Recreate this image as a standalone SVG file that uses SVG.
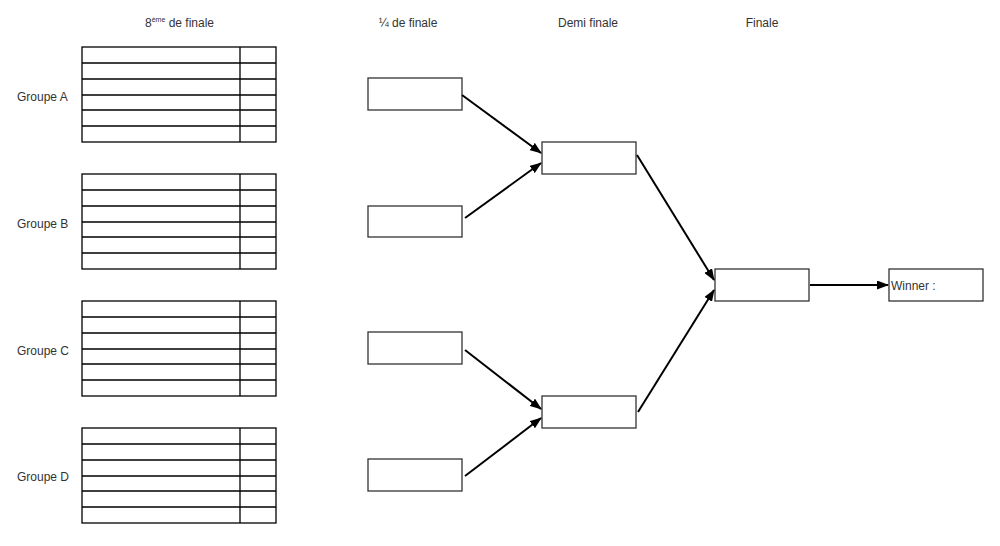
<svg xmlns="http://www.w3.org/2000/svg" width="1000" height="546" viewBox="0 0 1000 546">
<defs>
<marker id="ah" markerWidth="12" markerHeight="9" refX="11" refY="4.5" orient="auto" markerUnits="userSpaceOnUse"><path d="M0,0 L12,4.5 L0,9 Z" fill="#000"/></marker>
<g id="tbl">
<rect x="0" y="0" width="194" height="95" fill="#fff" stroke="#000" stroke-width="1.3"/>
<path d="M0,16H194M0,32H194M0,48H194M0,63H194M0,79H194M158,0V95" stroke="#000" stroke-width="1.3" fill="none"/>
</g>
</defs>
<style>
text{font-family:"Liberation Sans",Arial,sans-serif;font-size:12px;fill:#333}
.box{fill:#fff;stroke:#333;stroke-width:1.3}
.c{stroke:#000;stroke-width:2;fill:none;marker-end:url(#ah)}
</style>
<rect width="1000" height="546" fill="#fff"/>
<g id="headers">
<text x="145" y="27">8<tspan font-size="7" dy="-5">ème</tspan><tspan dy="5"> de finale</tspan></text>
<text x="408" y="27" text-anchor="middle">¼ de finale</text>
<text x="588" y="27" text-anchor="middle">Demi finale</text>
<text x="762" y="27" text-anchor="middle">Finale</text>
</g>
<g id="groupeA"><text x="17" y="101">Groupe A</text><use href="#tbl" x="82" y="47"/></g>
<g id="groupeB"><text x="17" y="228">Groupe B</text><use href="#tbl" x="82" y="174"/></g>
<g id="groupeC"><text x="17" y="355">Groupe C</text><use href="#tbl" x="82" y="301"/></g>
<g id="groupeD"><text x="17" y="481">Groupe D</text><use href="#tbl" x="82" y="428"/></g>
<g id="q1"><rect class="box" x="368" y="78" width="94" height="32"/></g>
<g id="q2"><rect class="box" x="368" y="206" width="94" height="31"/></g>
<g id="q3"><rect class="box" x="368" y="332" width="94" height="32"/></g>
<g id="q4"><rect class="box" x="368" y="459" width="94" height="32"/></g>
<g id="s1"><rect class="box" x="542" y="142" width="94" height="32"/></g>
<g id="s2"><rect class="box" x="542" y="396" width="94" height="32"/></g>
<g id="final"><rect class="box" x="715" y="269" width="94" height="32"/></g>
<g id="winner"><rect class="box" x="889" y="269" width="94" height="32"/><text x="891" y="290">Winner :</text></g>
<g id="connectors">
<path class="c" d="M462,95 L541,153"/>
<path class="c" d="M465,218 L541,163"/>
<path class="c" d="M465,350 L541,409"/>
<path class="c" d="M465,476 L541,418"/>
<path class="c" d="M637,155 L714,280"/>
<path class="c" d="M638,412 L714,290"/>
<path class="c" d="M810,285 L888,285"/>
</g>
</svg>
